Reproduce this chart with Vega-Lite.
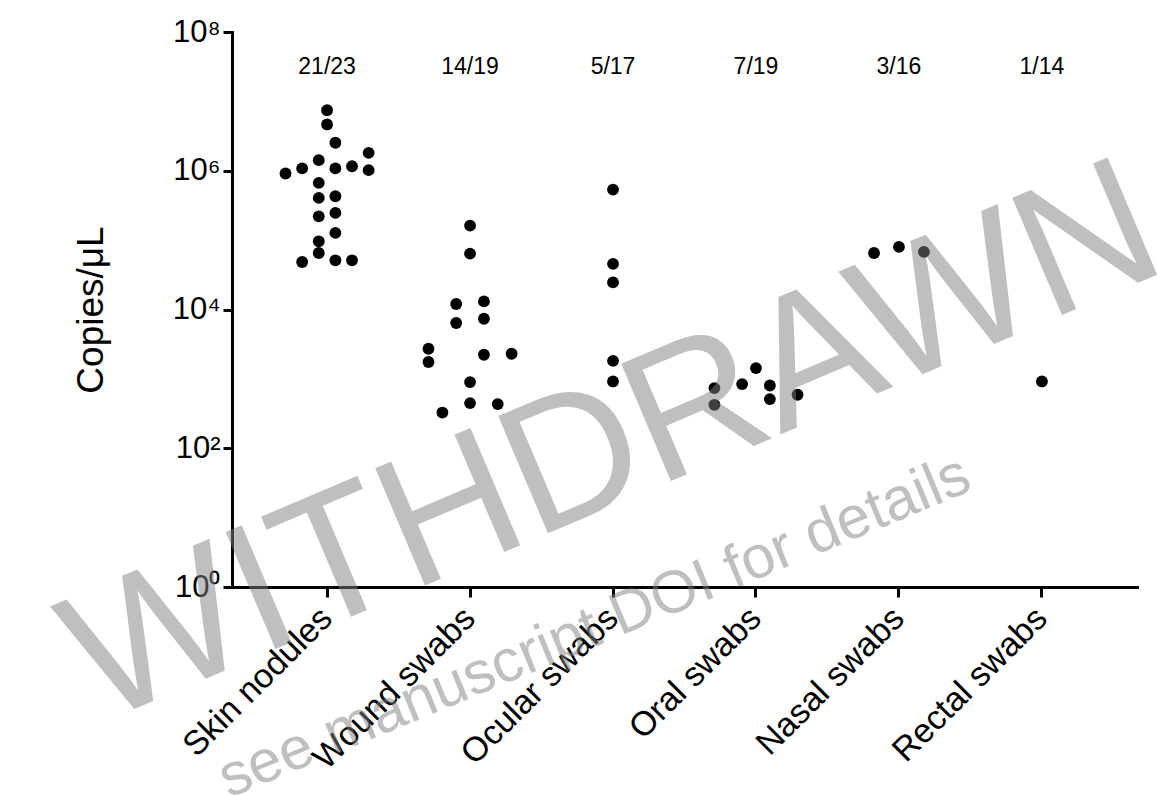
{
  "$schema": "https://vega.github.io/schema/vega-lite/v6.json",
  "width": 905,
  "height": 555,
  "autosize": "none",
  "padding": {"left": 232, "top": 32, "right": 20, "bottom": 208},
  "background": "white",
  "config": {
    "view": {"stroke": null},
    "font": "Liberation Sans",
    "text": {"font": "Liberation Sans"},
    "axis": {
      "labelFont": "Liberation Sans",
      "titleFont": "Liberation Sans",
      "labelColor": "black",
      "titleColor": "black",
      "tickColor": "black",
      "tickWidth": 3,
      "domainColor": "black",
      "domainWidth": 3,
      "domainCap": "square",
      "grid": false,
      "labelLimit": 500
    },
    "axisX": {
      "labelFontSize": 34,
      "labelAngle": -45,
      "labelAlign": "right",
      "labelBaseline": "middle",
      "labelPadding": 16,
      "tickSize": 10
    },
    "axisY": {
      "labelFontSize": 31,
      "labelPadding": 3,
      "tickSize": 9,
      "titleFontSize": 37,
      "titleFontWeight": "normal",
      "titlePadding": 62
    }
  },
  "datasets": {
    "points": [
      {"sample": "Skin nodules", "copies": 7460000, "jitter": 0},
      {"sample": "Skin nodules", "copies": 4650000, "jitter": 0},
      {"sample": "Skin nodules", "copies": 2530000, "jitter": 1},
      {"sample": "Skin nodules", "copies": 1810000, "jitter": 5},
      {"sample": "Skin nodules", "copies": 1420000, "jitter": -1},
      {"sample": "Skin nodules", "copies": 912000, "jitter": -5},
      {"sample": "Skin nodules", "copies": 1080000, "jitter": -3},
      {"sample": "Skin nodules", "copies": 1080000, "jitter": 1},
      {"sample": "Skin nodules", "copies": 1160000, "jitter": 3},
      {"sample": "Skin nodules", "copies": 1020000, "jitter": 5},
      {"sample": "Skin nodules", "copies": 668000, "jitter": -1},
      {"sample": "Skin nodules", "copies": 406000, "jitter": -1},
      {"sample": "Skin nodules", "copies": 429000, "jitter": 1},
      {"sample": "Skin nodules", "copies": 220000, "jitter": -1},
      {"sample": "Skin nodules", "copies": 247000, "jitter": 1},
      {"sample": "Skin nodules", "copies": 127000, "jitter": 1},
      {"sample": "Skin nodules", "copies": 96200, "jitter": -1},
      {"sample": "Skin nodules", "copies": 65300, "jitter": -1},
      {"sample": "Skin nodules", "copies": 48400, "jitter": -3},
      {"sample": "Skin nodules", "copies": 51200, "jitter": 1},
      {"sample": "Skin nodules", "copies": 51200, "jitter": 3},
      {"sample": "Wound swabs", "copies": 162000, "jitter": 0},
      {"sample": "Wound swabs", "copies": 63800, "jitter": 0},
      {"sample": "Wound swabs", "copies": 12000, "jitter": -1.67},
      {"sample": "Wound swabs", "copies": 13100, "jitter": 1.67},
      {"sample": "Wound swabs", "copies": 6380, "jitter": -1.67},
      {"sample": "Wound swabs", "copies": 7360, "jitter": 1.67},
      {"sample": "Wound swabs", "copies": 2720, "jitter": -5},
      {"sample": "Wound swabs", "copies": 1750, "jitter": -5},
      {"sample": "Wound swabs", "copies": 2230, "jitter": 1.67},
      {"sample": "Wound swabs", "copies": 2300, "jitter": 5},
      {"sample": "Wound swabs", "copies": 899, "jitter": 0},
      {"sample": "Wound swabs", "copies": 448, "jitter": 0},
      {"sample": "Wound swabs", "copies": 433, "jitter": 3.33},
      {"sample": "Wound swabs", "copies": 327, "jitter": -3.33},
      {"sample": "Ocular swabs", "copies": 535000, "jitter": 0},
      {"sample": "Ocular swabs", "copies": 45400, "jitter": 0},
      {"sample": "Ocular swabs", "copies": 24600, "jitter": 0},
      {"sample": "Ocular swabs", "copies": 1820, "jitter": 0},
      {"sample": "Ocular swabs", "copies": 918, "jitter": 0},
      {"sample": "Oral swabs", "copies": 737, "jitter": -5},
      {"sample": "Oral swabs", "copies": 423, "jitter": -5},
      {"sample": "Oral swabs", "copies": 841, "jitter": -1.67},
      {"sample": "Oral swabs", "copies": 1430, "jitter": 0},
      {"sample": "Oral swabs", "copies": 803, "jitter": 1.67},
      {"sample": "Oral swabs", "copies": 511, "jitter": 1.67},
      {"sample": "Oral swabs", "copies": 590, "jitter": 5},
      {"sample": "Nasal swabs", "copies": 65300, "jitter": -3},
      {"sample": "Nasal swabs", "copies": 79800, "jitter": 0},
      {"sample": "Nasal swabs", "copies": 67600, "jitter": 3},
      {"sample": "Rectal swabs", "copies": 918, "jitter": 0}
    ],
    "counts": [
      {"sample": "Skin nodules", "label": "21/23"},
      {"sample": "Wound swabs", "label": "14/19"},
      {"sample": "Ocular swabs", "label": "5/17"},
      {"sample": "Oral swabs", "label": "7/19"},
      {"sample": "Nasal swabs", "label": "3/16"},
      {"sample": "Rectal swabs", "label": "1/14"}
    ],
    "mark1": [{"text": "WITHDRAWN"}],
    "mark2": [{"text": "see manuscript DOI for details"}]
  },
  "layer": [
    {
      "data": {"name": "points"},
      "mark": {"type": "circle", "size": 140, "color": "black", "opacity": 1},
      "encoding": {
        "x": {
          "field": "sample",
          "type": "nominal",
          "title": null,
          "scale": {"type": "band", "domain": ["Skin nodules", "Wound swabs", "Ocular swabs", "Oral swabs", "Nasal swabs", "Rectal swabs"], "paddingInner": 0, "paddingOuter": 0.165},
          "axis": {"title": null}
        },
        "xOffset": {"field": "jitter", "type": "quantitative", "scale": {"domain": [-8.6, 8.6]}},
        "y": {
          "field": "copies",
          "type": "quantitative",
          "title": "Copies/μL",
          "scale": {"type": "log", "domain": [1, 100000000], "nice": false},
          "axis": {
            "title": "Copies/μL",
            "titleFontSize": 37,
            "values": [1, 100, 10000, 1000000, 100000000],
            "labelExpr": "'10' + ['⁰','¹','²','³','⁴','⁵','⁶','⁷','⁸'][round(log(datum.value)/LN10)]"
          }
        }
      }
    },
    {
      "data": {"name": "counts"},
      "mark": {"type": "text", "fontSize": 23, "color": "black", "baseline": "alphabetic", "align": "center"},
      "encoding": {
        "x": {"field": "sample", "type": "nominal", "title": null},
        "y": {"datum": 25000000, "type": "quantitative", "title": "Copies/μL"},
        "text": {"field": "label"}
      }
    },
    {
      "data": {"name": "mark1"},
      "mark": {"type": "text", "fontSize": 185, "angle": -23, "align": "center", "baseline": "middle", "color": "#808080", "opacity": 0.5},
      "encoding": {
        "x": {"datum": "Ocular swabs", "type": "nominal", "title": null},
        "y": {"datum": 112, "type": "quantitative", "title": "Copies/μL"},
        "text": {"field": "text"}
      }
    },
    {
      "data": {"name": "mark2"},
      "mark": {"type": "text", "fontSize": 60, "angle": -22.5, "align": "center", "baseline": "middle", "dx": -20, "color": "#808080", "opacity": 0.5},
      "encoding": {
        "x": {"datum": "Ocular swabs", "type": "nominal", "title": null},
        "y": {"datum": 0.34, "type": "quantitative", "title": "Copies/μL"},
        "text": {"field": "text"}
      }
    }
  ]
}
